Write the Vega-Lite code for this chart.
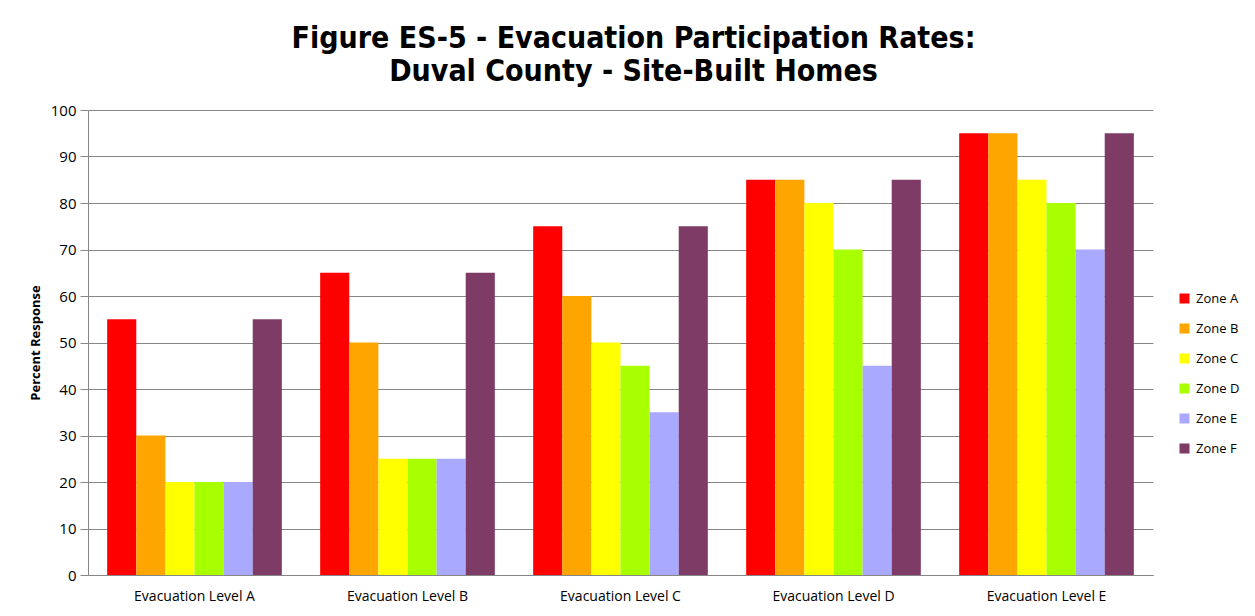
{
  "$schema": "https://vega.github.io/schema/vega-lite/v6.json",
  "autosize": {"type": "none"},
  "width": 1065,
  "height": 465,
  "padding": {"left": 88, "top": 110, "right": 102, "bottom": 41},
  "background": "white",
  "title": {
    "text": ["Figure ES-5 - Evacuation Participation Rates:", "Duval County - Site-Built Homes"],
    "font": "DejaVu Sans Condensed",
    "fontWeight": "bold",
    "fontSize": 30,
    "lineHeight": 33,
    "color": "#000000",
    "anchor": "middle",
    "frame": "group",
    "dx": 13,
    "offset": 16
  },
  "data": {
    "values": [
      {"level": "Evacuation Level A", "zone": "Zone A", "pct": 55},
      {"level": "Evacuation Level A", "zone": "Zone B", "pct": 30},
      {"level": "Evacuation Level A", "zone": "Zone C", "pct": 20},
      {"level": "Evacuation Level A", "zone": "Zone D", "pct": 20},
      {"level": "Evacuation Level A", "zone": "Zone E", "pct": 20},
      {"level": "Evacuation Level A", "zone": "Zone F", "pct": 55},
      {"level": "Evacuation Level B", "zone": "Zone A", "pct": 65},
      {"level": "Evacuation Level B", "zone": "Zone B", "pct": 50},
      {"level": "Evacuation Level B", "zone": "Zone C", "pct": 25},
      {"level": "Evacuation Level B", "zone": "Zone D", "pct": 25},
      {"level": "Evacuation Level B", "zone": "Zone E", "pct": 25},
      {"level": "Evacuation Level B", "zone": "Zone F", "pct": 65},
      {"level": "Evacuation Level C", "zone": "Zone A", "pct": 75},
      {"level": "Evacuation Level C", "zone": "Zone B", "pct": 60},
      {"level": "Evacuation Level C", "zone": "Zone C", "pct": 50},
      {"level": "Evacuation Level C", "zone": "Zone D", "pct": 45},
      {"level": "Evacuation Level C", "zone": "Zone E", "pct": 35},
      {"level": "Evacuation Level C", "zone": "Zone F", "pct": 75},
      {"level": "Evacuation Level D", "zone": "Zone A", "pct": 85},
      {"level": "Evacuation Level D", "zone": "Zone B", "pct": 85},
      {"level": "Evacuation Level D", "zone": "Zone C", "pct": 80},
      {"level": "Evacuation Level D", "zone": "Zone D", "pct": 70},
      {"level": "Evacuation Level D", "zone": "Zone E", "pct": 45},
      {"level": "Evacuation Level D", "zone": "Zone F", "pct": 85},
      {"level": "Evacuation Level E", "zone": "Zone A", "pct": 95},
      {"level": "Evacuation Level E", "zone": "Zone B", "pct": 95},
      {"level": "Evacuation Level E", "zone": "Zone C", "pct": 85},
      {"level": "Evacuation Level E", "zone": "Zone D", "pct": 80},
      {"level": "Evacuation Level E", "zone": "Zone E", "pct": 70},
      {"level": "Evacuation Level E", "zone": "Zone F", "pct": 95}
    ]
  },
  "mark": {"type": "bar"},
  "encoding": {
    "x": {
      "field": "level",
      "type": "nominal",
      "scale": {"paddingInner": 0.18, "paddingOuter": 0.09},
      "axis": {
        "title": null,
        "labelAngle": 0,
        "labelFont": "Open Sans",
        "labelFontSize": 14,
        "labelColor": "#000000",
        "labelPadding": 14,
        "ticks": false,
        "domainColor": "#868686",
        "grid": false
      }
    },
    "xOffset": {"field": "zone", "type": "nominal", "scale": {"paddingInner": 0, "paddingOuter": 0}},
    "y": {
      "field": "pct",
      "type": "quantitative",
      "scale": {"domain": [0, 100], "nice": false},
      "axis": {
        "title": "Percent Response",
        "titleFont": "Open Sans",
        "titleFontSize": 13,
        "titleFontWeight": "bold",
        "titleColor": "#000000",
        "titlePadding": 8,
        "values": [0, 10, 20, 30, 40, 50, 60, 70, 80, 90, 100],
        "labelFont": "Open Sans",
        "labelFontSize": 15,
        "labelColor": "#000000",
        "labelPadding": 4,
        "tickSize": 8,
        "tickColor": "#868686",
        "domainColor": "#868686",
        "gridColor": "#868686",
        "grid": true
      }
    },
    "color": {
      "field": "zone",
      "type": "nominal",
      "scale": {
        "domain": ["Zone A", "Zone B", "Zone C", "Zone D", "Zone E", "Zone F"],
        "range": ["#FF0000", "#FFA500", "#FFFF00", "#A8FF00", "#A9A9FF", "#7D3B66"]
      },
      "legend": {
        "title": null,
        "orient": "none",
        "legendX": 1090,
        "legendY": 182,
        "symbolType": "square",
        "symbolSize": 100,
        "symbolStrokeWidth": 0,
        "labelFont": "Open Sans",
        "labelFontSize": 13,
        "labelColor": "#000000",
        "rowPadding": 16,
        "labelOffset": 5
      }
    }
  },
  "config": {
    "view": {"stroke": null}
  }
}
